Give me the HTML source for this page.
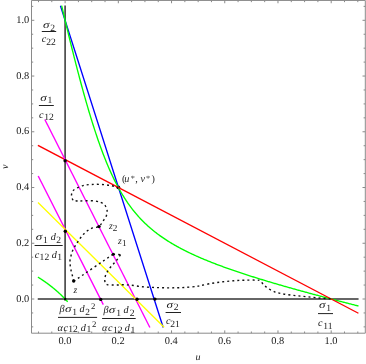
<!DOCTYPE html>
<html><head><meta charset="utf-8"><title>phase plane</title>
<style>html,body{margin:0;padding:0;background:#fff;}svg{display:block;will-change:transform;}.t text{font-family:"Liberation Serif",serif;text-rendering:geometricPrecision;}</style></head>
<body>
<svg width="366" height="364" viewBox="0 0 366 364">
<rect x="0" y="0" width="366" height="364" fill="#fff"/>
<g fill="none" stroke-linecap="square">
<path d="M38.49,299.00 L357.81,299.00" stroke="#333" stroke-width="1.5"/>
<path d="M65.10,300.00 L65.10,6.37" stroke="#333" stroke-width="1.5"/>
<circle cx="118.3" cy="187.3" r="1.9" fill="#000"/>
<path d="M60.65,6.37 L163.00,326.87" stroke="#0000ff" stroke-width="1.35"/>
<path d="M61.80,6.35 L62.54,9.50 L63.28,12.64 L64.02,15.76 L64.76,18.88 L65.50,21.98 L66.24,25.06 L66.98,28.14 L67.72,31.20 L68.46,34.24 L69.20,37.27 L69.94,40.29 L70.68,43.29 L71.42,46.27 L72.16,49.24 L72.90,52.19 L73.64,55.13 L74.38,58.05 L75.12,60.95 L75.86,63.84 L76.60,66.70 L77.34,69.55 L78.08,72.37 L78.82,75.18 L79.56,77.97 L80.30,80.74 L81.04,83.48 L81.78,86.21 L82.52,88.91 L83.26,91.59 L84.00,94.25 L84.74,96.88 L85.48,99.50 L86.22,102.08 L86.96,104.65 L87.70,107.18 L88.44,109.70 L89.18,112.19 L89.92,114.65 L90.66,117.08 L91.40,119.49 L92.14,121.87 L92.88,124.23 L93.62,126.56 L94.36,128.85 L95.10,131.13 L95.84,133.37 L96.58,135.58 L97.32,137.77 L98.06,139.92 L98.80,142.05 L99.54,144.14 L100.28,146.21 L101.02,148.25 L101.76,150.26 L102.50,152.23 L103.24,154.18 L103.98,156.10 L104.72,157.99 L105.46,159.84 L106.20,161.67 L106.94,163.47 L107.68,165.24 L108.42,166.98 L109.16,168.69 L109.90,170.37 L110.64,172.02 L111.38,173.64 L112.12,175.24 L112.86,176.80 L113.60,178.34 L114.34,179.85 L115.08,181.34 L115.82,182.80 L116.56,184.23 L117.30,185.63 L118.04,187.01 L118.78,188.36 L119.52,189.69 L120.26,190.99 L121.00,192.27 L121.74,193.53 L122.48,194.76 L123.22,195.97 L123.96,197.16 L124.70,198.32 L125.44,199.47 L126.18,200.59 L126.92,201.69 L127.66,202.77 L128.40,203.83 L129.14,204.87 L129.88,205.89 L130.62,206.90 L131.36,207.88 L132.10,208.85 L132.84,209.80 L133.58,210.74 L134.32,211.65 L135.06,212.55 L135.80,213.44 L136.54,214.31 L137.28,215.16 L138.02,216.00 L138.76,216.83 L139.50,217.64 L140.24,218.43 L140.98,219.22 L141.72,219.99 L142.46,220.75 L143.20,221.49 L143.94,222.23 L144.68,222.95 L145.42,223.66 L146.16,224.36 L146.90,225.05 L147.64,225.73 L148.38,226.40 L149.12,227.05 L149.86,227.70 L150.60,228.34 L151.34,228.97 L152.08,229.59 L152.82,230.20 L153.56,230.80 L154.30,231.40 L155.04,231.98 L155.78,232.56 L156.52,233.13 L157.26,233.69 L158.00,234.24 L158.74,234.79 L159.48,235.33 L160.22,235.86 L160.96,236.39 L161.70,236.91 L162.44,237.42 L163.18,237.93 L163.92,238.43 L164.66,238.93 L165.40,239.41 L166.14,239.90 L166.88,240.38 L167.62,240.85 L168.36,241.31 L169.10,241.78 L169.84,242.23 L170.58,242.68 L171.32,243.13 L172.06,243.57 L172.80,244.01 L173.54,244.44 L174.28,244.87 L175.02,245.29 L175.76,245.71 L176.50,246.13 L177.24,246.54 L177.98,246.95 L178.72,247.35 L179.46,247.75 L180.20,248.15 L180.94,248.54 L181.68,248.93 L182.42,249.32 L183.16,249.70 L183.90,250.08 L184.64,250.45 L185.38,250.83 L186.12,251.19 L186.86,251.56 L187.60,251.92 L188.34,252.28 L189.08,252.64 L189.82,253.00 L190.56,253.35 L191.30,253.70 L192.04,254.04 L192.78,254.39 L193.52,254.73 L194.26,255.07 L195.00,255.40 L195.74,255.74 L196.48,256.07 L197.22,256.40 L197.96,256.73 L198.70,257.05 L199.44,257.37 L200.18,257.69 L200.92,258.01 L201.66,258.33 L202.40,258.64 L203.14,258.96 L203.88,259.27 L204.63,259.58 L205.37,259.88 L206.11,260.19 L206.85,260.49 L207.59,260.79 L208.33,261.09 L209.07,261.39 L209.81,261.69 L210.55,261.98 L211.29,262.27 L212.03,262.56 L212.77,262.85 L213.51,263.14 L214.25,263.43 L214.99,263.71 L215.73,264.00 L216.47,264.28 L217.21,264.56 L217.95,264.84 L218.69,265.12 L219.43,265.40 L220.17,265.67 L220.91,265.94 L221.65,266.22 L222.39,266.49 L223.13,266.76 L223.87,267.03 L224.61,267.30 L225.35,267.56 L226.09,267.83 L226.83,268.09 L227.57,268.36 L228.31,268.62 L229.05,268.88 L229.79,269.14 L230.53,269.40 L231.27,269.66 L232.01,269.92 L232.75,270.17 L233.49,270.43 L234.23,270.68 L234.97,270.93 L235.71,271.19 L236.45,271.44 L237.19,271.69 L237.93,271.94 L238.67,272.19 L239.41,272.43 L240.15,272.68 L240.89,272.93 L241.63,273.17 L242.37,273.42 L243.11,273.66 L243.85,273.90 L244.59,274.14 L245.33,274.39 L246.07,274.63 L246.81,274.87 L247.55,275.10 L248.29,275.34 L249.03,275.58 L249.77,275.82 L250.51,276.05 L251.25,276.29 L251.99,276.52 L252.73,276.76 L253.47,276.99 L254.21,277.22 L254.95,277.45 L255.69,277.69 L256.43,277.92 L257.17,278.15 L257.91,278.38 L258.65,278.60 L259.39,278.83 L260.13,279.06 L260.87,279.29 L261.61,279.51 L262.35,279.74 L263.09,279.97 L263.83,280.19 L264.57,280.41 L265.31,280.64 L266.05,280.86 L266.79,281.08 L267.53,281.31 L268.27,281.53 L269.01,281.75 L269.75,281.97 L270.49,282.19 L271.23,282.41 L271.97,282.63 L272.71,282.85 L273.45,283.06 L274.19,283.28 L274.93,283.50 L275.67,283.72 L276.41,283.93 L277.15,284.15 L277.89,284.36 L278.63,284.58 L279.37,284.79 L280.11,285.01 L280.85,285.22 L281.59,285.44 L282.33,285.65 L283.07,285.86 L283.81,286.07 L284.55,286.28 L285.29,286.50 L286.03,286.71 L286.77,286.92 L287.51,287.13 L288.25,287.34 L288.99,287.55 L289.73,287.76 L290.47,287.97 L291.21,288.17 L291.95,288.38 L292.69,288.59 L293.43,288.80 L294.17,289.00 L294.91,289.21 L295.65,289.42 L296.39,289.62 L297.13,289.83 L297.87,290.03 L298.61,290.24 L299.35,290.44 L300.09,290.65 L300.83,290.85 L301.57,291.06 L302.31,291.26 L303.05,291.46 L303.79,291.67 L304.53,291.87 L305.27,292.07 L306.01,292.27 L306.75,292.47 L307.49,292.68 L308.23,292.88 L308.97,293.08 L309.71,293.28 L310.45,293.48 L311.19,293.68 L311.93,293.88 L312.67,294.08 L313.41,294.28 L314.15,294.48 L314.89,294.68 L315.63,294.87 L316.37,295.07 L317.11,295.27 L317.85,295.47 L318.59,295.67 L319.33,295.86 L320.07,296.06 L320.81,296.26 L321.55,296.46 L322.29,296.65 L323.03,296.85 L323.77,297.04 L324.51,297.24 L325.25,297.44 L325.99,297.63 L326.73,297.83 L327.47,298.02 L328.21,298.22 L328.95,298.41 L329.69,298.60 L330.43,298.80 L331.17,298.99 L331.91,299.19 L332.65,299.38 L333.39,299.57 L334.13,299.77 L334.87,299.96 L335.61,300.15 L336.35,300.34 L337.09,300.54 L337.83,300.73 L338.57,300.92 L339.31,301.11 L340.05,301.30 L340.79,301.49 L341.53,301.69 L342.27,301.88 L343.01,302.07 L343.75,302.26 L344.49,302.45 L345.23,302.64 L345.97,302.83 L346.71,303.02 L347.45,303.21 L348.19,303.40 L348.93,303.59 L349.67,303.78 L350.41,303.97 L351.15,304.16 L351.89,304.34 L352.63,304.53 L353.37,304.72 L354.11,304.91 L354.85,305.10 L355.59,305.29 L356.33,305.47 L357.07,305.66 L357.81,305.85" stroke="#00ff00" stroke-width="1.35"/>
<path d="M38.49,277.45 L38.98,277.76 L39.46,278.07 L39.95,278.39 L40.44,278.70 L40.93,279.02 L41.41,279.34 L41.90,279.67 L42.39,280.00 L42.87,280.32 L43.36,280.66 L43.85,280.99 L44.34,281.33 L44.82,281.67 L45.31,282.01 L45.80,282.36 L46.28,282.71 L46.77,283.06 L47.26,283.41 L47.74,283.77 L48.23,284.13 L48.72,284.50 L49.21,284.86 L49.69,285.23 L50.18,285.61 L50.67,285.99 L51.15,286.37 L51.64,286.75 L52.13,287.14 L52.62,287.53 L53.10,287.92 L53.59,288.32 L54.08,288.73 L54.56,289.13 L55.05,289.54 L55.54,289.96 L56.03,290.38 L56.51,290.80 L57.00,291.22 L57.49,291.66 L57.97,292.09 L58.46,292.53 L58.95,292.97 L59.44,293.42 L59.92,293.88 L60.41,294.33 L60.90,294.80 L61.38,295.26 L61.87,295.74 L62.36,296.21 L62.84,296.70 L63.33,297.18 L63.82,297.68 L64.31,298.18 L64.79,298.68 L65.28,299.19 L65.77,299.70 L66.25,300.23 L66.74,300.75 L67.23,301.28" stroke="#00ff00" stroke-width="1.35"/>
<path d="M38.49,145.72 L357.81,312.94" stroke="#ff0000" stroke-width="1.35"/>
<path d="M38.49,176.65 L103.00,304.00" stroke="#ff00ff" stroke-width="1.35"/>
<path d="M45.10,120.06 L149.58,326.87" stroke="#ff00ff" stroke-width="1.35"/>
<path d="M38.49,202.99 L163.66,326.87" stroke="#ffff00" stroke-width="1.35"/>
</g>
<g fill="none" stroke="#111" stroke-width="1.4" stroke-dasharray="2 3.05">
<path d="M73.80,281.20 C73.58,280.33 72.93,277.67 72.50,276.00 C72.07,274.33 71.58,272.97 71.20,271.20 C70.82,269.43 70.40,267.17 70.20,265.40 C70.00,263.63 69.87,262.20 70.00,260.60 C70.13,259.00 70.58,257.40 71.00,255.80 C71.42,254.20 71.83,252.60 72.50,251.00 C73.17,249.40 74.13,247.72 75.00,246.20 C75.87,244.68 76.73,243.35 77.70,241.90 C78.67,240.45 79.75,238.87 80.80,237.50 C81.85,236.13 82.82,234.88 84.00,233.70 C85.18,232.52 86.45,231.37 87.90,230.40 C89.35,229.43 90.85,228.55 92.70,227.90 C94.55,227.25 97.33,227.57 99.00,226.50 C100.67,225.43 101.50,223.22 102.70,221.50 C103.90,219.78 105.47,218.05 106.20,216.20 C106.93,214.35 107.27,212.17 107.10,210.40 C106.93,208.63 106.17,206.88 105.20,205.60 C104.23,204.32 103.07,203.48 101.30,202.70 C99.53,201.92 97.32,201.22 94.60,200.90 C91.88,200.58 87.72,200.78 85.00,200.80 C82.28,200.82 80.30,201.08 78.30,201.00 C76.30,200.92 73.88,200.42 73.00,200.30"/>
<path d="M73.00,200.30 C72.75,199.58 71.58,197.47 71.50,196.00 C71.42,194.53 71.70,192.78 72.50,191.50 C73.30,190.22 74.55,189.28 76.30,188.30 C78.05,187.32 80.58,186.23 83.00,185.60 C85.42,184.97 87.90,184.70 90.80,184.50 C93.70,184.30 97.20,184.25 100.40,184.40 C103.60,184.55 107.03,184.90 110.00,185.40 C112.97,185.90 116.83,187.07 118.20,187.40"/>
<path d="M73.80,281.20 C80.35,276.70 106.55,258.70 113.10,254.20"/>
<path d="M113.10,254.20 C114.33,254.28 119.27,254.62 120.50,254.70"/>
<path d="M120.50,254.70 C120.07,255.35 118.85,257.30 117.90,258.60 C116.95,259.90 115.90,261.22 114.80,262.50 C113.70,263.78 112.40,264.98 111.30,266.30 C110.20,267.62 109.08,269.12 108.20,270.40 C107.32,271.68 106.57,272.60 106.00,274.00 C105.43,275.40 104.93,277.35 104.80,278.80 C104.67,280.25 104.82,281.73 105.20,282.70 C105.58,283.67 105.98,284.22 107.10,284.60 C108.22,284.98 110.13,284.93 111.90,285.00 C113.67,285.07 115.77,285.05 117.70,285.00 C119.63,284.95 121.28,284.67 123.50,284.70 C125.72,284.73 127.92,284.87 131.00,285.20 C134.08,285.53 138.33,286.33 142.00,286.70 C145.67,287.07 149.33,287.22 153.00,287.40 C156.67,287.58 160.33,287.73 164.00,287.80 C167.67,287.87 171.33,287.87 175.00,287.80 C178.67,287.73 182.33,287.65 186.00,287.40 C189.67,287.15 194.50,286.62 197.00,286.30 C199.50,285.98 198.50,286.00 201.00,285.50 C203.50,285.00 208.33,283.92 212.00,283.30 C215.67,282.68 219.33,282.23 223.00,281.80 C226.67,281.37 230.33,280.97 234.00,280.70 C237.67,280.43 241.33,280.30 245.00,280.20 C248.67,280.10 253.50,280.03 256.00,280.10 C258.50,280.17 258.75,279.87 260.00,280.60 C261.25,281.33 262.25,283.27 263.50,284.50 C264.75,285.73 265.65,286.78 267.50,288.00 C269.35,289.22 272.18,290.85 274.60,291.80 C277.02,292.75 279.13,293.13 282.00,293.70 C284.87,294.27 288.53,294.78 291.80,295.20 C295.07,295.62 298.33,295.87 301.60,296.20 C304.87,296.53 308.12,296.87 311.40,297.20 C314.68,297.53 318.03,297.92 321.30,298.20 C324.57,298.48 329.38,298.78 331.00,298.90"/>
</g>
<circle cx="65.10" cy="160.80" r="1.70" fill="#000"/>
<circle cx="65.30" cy="231.30" r="1.70" fill="#000"/>
<circle cx="100.70" cy="299.40" r="1.70" fill="#000"/>
<circle cx="137.00" cy="299.30" r="1.70" fill="#000"/>
<circle cx="154.90" cy="299.10" r="1.70" fill="#000"/>
<circle cx="73.70" cy="281.00" r="1.70" fill="#000"/>
<circle cx="113.30" cy="254.20" r="1.50" fill="#000"/>
<circle cx="99.00" cy="226.60" r="1.70" fill="#000"/>
<circle cx="65.20" cy="298.90" r="1.20" fill="#000"/>
<g stroke="#8a8a8a" stroke-width="1" fill="none">
<path d="M31.50,0.45 H365.30 V333.20 H31.50 Z"/>
<path d="M38.49,333.20 v-1.70 M38.49,0.45 v1.70 M51.79,333.20 v-1.70 M51.79,0.45 v1.70 M65.10,333.20 v-2.80 M65.10,0.45 v2.80 M78.41,333.20 v-1.70 M78.41,0.45 v1.70 M91.71,333.20 v-1.70 M91.71,0.45 v1.70 M105.02,333.20 v-1.70 M105.02,0.45 v1.70 M118.32,333.20 v-2.80 M118.32,0.45 v2.80 M131.62,333.20 v-1.70 M131.62,0.45 v1.70 M144.93,333.20 v-1.70 M144.93,0.45 v1.70 M158.24,333.20 v-1.70 M158.24,0.45 v1.70 M171.54,333.20 v-2.80 M171.54,0.45 v2.80 M184.85,333.20 v-1.70 M184.85,0.45 v1.70 M198.15,333.20 v-1.70 M198.15,0.45 v1.70 M211.46,333.20 v-1.70 M211.46,0.45 v1.70 M224.76,333.20 v-2.80 M224.76,0.45 v2.80 M238.07,333.20 v-1.70 M238.07,0.45 v1.70 M251.37,333.20 v-1.70 M251.37,0.45 v1.70 M264.68,333.20 v-1.70 M264.68,0.45 v1.70 M277.98,333.20 v-2.80 M277.98,0.45 v2.80 M291.29,333.20 v-1.70 M291.29,0.45 v1.70 M304.59,333.20 v-1.70 M304.59,0.45 v1.70 M317.90,333.20 v-1.70 M317.90,0.45 v1.70 M331.20,333.20 v-2.80 M331.20,0.45 v2.80 M344.50,333.20 v-1.70 M344.50,0.45 v1.70 M357.81,333.20 v-1.70 M357.81,0.45 v1.70 M31.50,326.87 h1.70 M365.30,326.87 h-1.70 M31.50,312.94 h1.70 M365.30,312.94 h-1.70 M31.50,299.00 h2.80 M365.30,299.00 h-2.80 M31.50,285.06 h1.70 M365.30,285.06 h-1.70 M31.50,271.13 h1.70 M365.30,271.13 h-1.70 M31.50,257.19 h1.70 M365.30,257.19 h-1.70 M31.50,243.26 h2.80 M365.30,243.26 h-2.80 M31.50,229.32 h1.70 M365.30,229.32 h-1.70 M31.50,215.39 h1.70 M365.30,215.39 h-1.70 M31.50,201.45 h1.70 M365.30,201.45 h-1.70 M31.50,187.52 h2.80 M365.30,187.52 h-2.80 M31.50,173.59 h1.70 M365.30,173.59 h-1.70 M31.50,159.65 h1.70 M365.30,159.65 h-1.70 M31.50,145.72 h1.70 M365.30,145.72 h-1.70 M31.50,131.78 h2.80 M365.30,131.78 h-2.80 M31.50,117.84 h1.70 M365.30,117.84 h-1.70 M31.50,103.91 h1.70 M365.30,103.91 h-1.70 M31.50,89.98 h1.70 M365.30,89.98 h-1.70 M31.50,76.04 h2.80 M365.30,76.04 h-2.80 M31.50,62.10 h1.70 M365.30,62.10 h-1.70 M31.50,48.17 h1.70 M365.30,48.17 h-1.70 M31.50,34.24 h1.70 M365.30,34.24 h-1.70 M31.50,20.30 h2.80 M365.30,20.30 h-2.80 M31.50,6.37 h1.70 M365.30,6.37 h-1.70 "/>
</g>
<g class="t" fill="#1a1a1a">
<text x="29.2" y="301.70" font-size="10.4" text-anchor="end">0.0</text>
<text x="64.90" y="344.3" font-size="10.4" text-anchor="middle">0.0</text>
<text x="29.2" y="245.96" font-size="10.4" text-anchor="end">0.2</text>
<text x="118.12" y="344.3" font-size="10.4" text-anchor="middle">0.2</text>
<text x="29.2" y="190.22" font-size="10.4" text-anchor="end">0.4</text>
<text x="171.34" y="344.3" font-size="10.4" text-anchor="middle">0.4</text>
<text x="29.2" y="134.48" font-size="10.4" text-anchor="end">0.6</text>
<text x="224.56" y="344.3" font-size="10.4" text-anchor="middle">0.6</text>
<text x="29.2" y="78.74" font-size="10.4" text-anchor="end">0.8</text>
<text x="277.78" y="344.3" font-size="10.4" text-anchor="middle">0.8</text>
<text x="29.2" y="23.00" font-size="10.4" text-anchor="end">1.0</text>
<text x="331.00" y="344.3" font-size="10.4" text-anchor="middle">1.0</text>
<text x="198.1" y="359.7" font-size="10" font-style="italic" text-anchor="middle">u</text>
<text transform="translate(7.6,166.8) rotate(-90)" font-size="10" font-style="italic" text-anchor="middle">v</text>
<text transform="translate(43.00,28.00) scale(1.28,1)" font-size="10.2" font-style="italic">σ</text>
<text x="50.20" y="30.80" font-size="9.6">2</text>
<path d="M41.80,31.50 H56.20" stroke="#222" stroke-width="1"/>
<text x="41.80" y="42.20" font-size="10.2" font-style="italic">c</text>
<text x="46.30" y="44.80" font-size="9.6">22</text>
<text transform="translate(40.30,100.80) scale(1.28,1)" font-size="10.2" font-style="italic">σ</text>
<text x="47.50" y="103.30" font-size="9.6">1</text>
<path d="M38.90,105.50 H53.80" stroke="#222" stroke-width="1"/>
<text x="38.90" y="117.70" font-size="10.2" font-style="italic">c</text>
<text x="44.20" y="120.20" font-size="9.6">12</text>
<text transform="translate(35.80,240.40) scale(1.28,1)" font-size="10.2" font-style="italic">σ</text>
<text x="43.00" y="243.10" font-size="9.6">1</text>
<text x="50.80" y="240.40" font-size="10.2" font-style="italic">d</text>
<text x="56.20" y="243.10" font-size="9.6">2</text>
<path d="M34.60,245.50 H62.70" stroke="#222" stroke-width="1"/>
<text x="34.80" y="257.70" font-size="10.2" font-style="italic">c</text>
<text x="39.60" y="260.20" font-size="9.6">12</text>
<text x="51.80" y="257.70" font-size="10.2" font-style="italic">d</text>
<text x="57.30" y="260.20" font-size="9.6">1</text>
<text x="59.50" y="312.30" font-size="10.2" font-style="italic">β</text>
<text transform="translate(64.90,312.30) scale(1.28,1)" font-size="10.2" font-style="italic">σ</text>
<text x="72.20" y="314.70" font-size="9.6">1</text>
<text x="79.50" y="312.30" font-size="10.2" font-style="italic">d</text>
<text x="85.30" y="314.80" font-size="9.3">2</text>
<text x="91.00" y="308.80" font-size="8.7">2</text>
<path d="M58.00,317.40 H97.10" stroke="#222" stroke-width="1"/>
<text x="57.60" y="330.80" font-size="10.2" font-style="italic">α</text>
<text x="63.60" y="330.80" font-size="10.2" font-style="italic">c</text>
<text x="68.30" y="332.30" font-size="9.6">12</text>
<text x="80.80" y="330.80" font-size="10.2" font-style="italic">d</text>
<text x="86.50" y="332.30" font-size="9.6">1</text>
<text x="92.00" y="326.90" font-size="8.7">2</text>
<text x="103.40" y="313.00" font-size="10.2" font-style="italic">β</text>
<text transform="translate(108.80,313.00) scale(1.28,1)" font-size="10.2" font-style="italic">σ</text>
<text x="116.30" y="315.80" font-size="9.6">1</text>
<text x="123.50" y="313.00" font-size="10.2" font-style="italic">d</text>
<text x="129.70" y="315.80" font-size="9.6">2</text>
<path d="M102.10,318.50 H135.70" stroke="#222" stroke-width="1"/>
<text x="102.00" y="331.20" font-size="10.2" font-style="italic">α</text>
<text x="108.00" y="331.20" font-size="10.2" font-style="italic">c</text>
<text x="113.00" y="332.80" font-size="9.6">12</text>
<text x="124.80" y="331.20" font-size="10.2" font-style="italic">d</text>
<text x="130.50" y="332.80" font-size="9.6">1</text>
<text transform="translate(166.60,308.10) scale(1.28,1)" font-size="10.2" font-style="italic">σ</text>
<text x="173.70" y="309.90" font-size="9.6">2</text>
<path d="M165.60,312.50 H181.00" stroke="#222" stroke-width="1"/>
<text x="166.00" y="324.30" font-size="10.2" font-style="italic">c</text>
<text x="170.20" y="327.10" font-size="9.6">21</text>
<text transform="translate(319.00,308.40) scale(1.28,1)" font-size="10.2" font-style="italic">σ</text>
<text x="326.30" y="310.90" font-size="9.6">1</text>
<path d="M318.00,313.60 H333.00" stroke="#222" stroke-width="1"/>
<text x="318.00" y="325.80" font-size="10.2" font-style="italic">c</text>
<text x="323.20" y="328.50" font-size="9.6">11</text>
<text x="73.40" y="293.10" font-size="9.6" font-style="italic">z</text>
<text x="118.00" y="243.80" font-size="9.6" font-style="italic">z</text>
<text x="122.00" y="245.80" font-size="9.2">1</text>
<text x="108.90" y="229.20" font-size="9.6" font-style="italic">z</text>
<text x="112.80" y="231.20" font-size="9.2">2</text>
<text x="122.00" y="182.40" font-size="10.2">(</text>
<text x="124.30" y="182.40" font-size="10.2" font-style="italic">u</text>
<text x="130.80" y="180.60" font-size="8.2">*</text>
<text x="135.20" y="182.40" font-size="10.2">,</text>
<text x="140.60" y="182.40" font-size="10.2" font-style="italic">v</text>
<text x="146.00" y="180.60" font-size="8.2">*</text>
<text x="151.60" y="182.40" font-size="10.2">)</text>
</g>
</svg>
</body></html>
